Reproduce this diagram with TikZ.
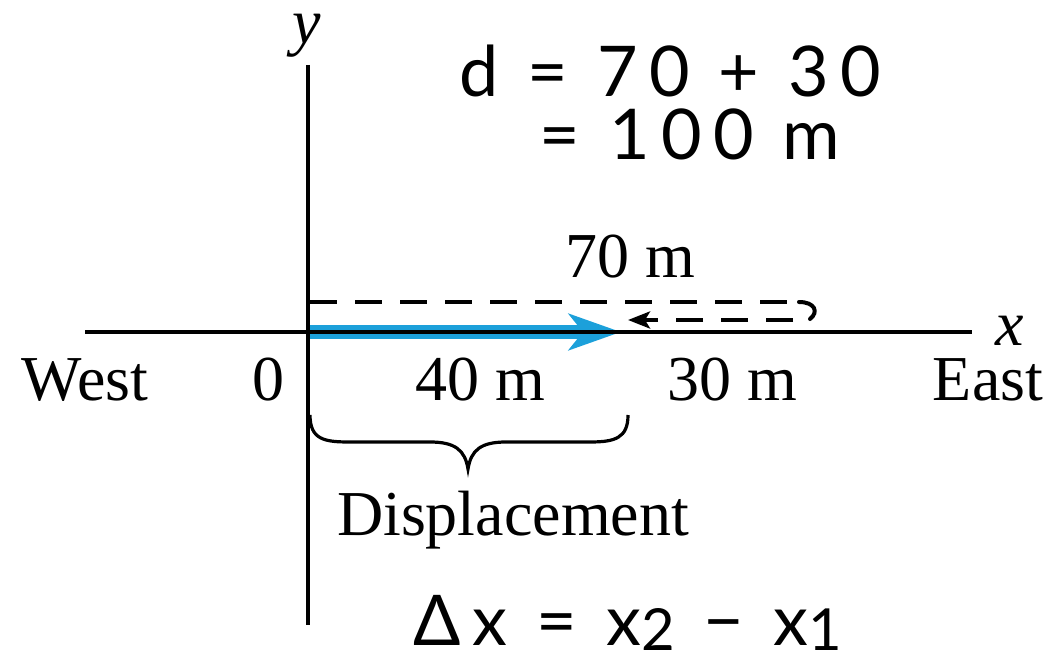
\documentclass[tikz,border=0pt]{standalone}
\usepackage{fontspec}
\setmainfont{Liberation Serif}
\newfontfamily\hand[LetterSpace=16]{Lato}
\usetikzlibrary{arrows.meta}
\definecolor{dispblue}{RGB}{28,160,218}
\tikzset{
  axis/.style={line width=4pt, black},
  lbl/.style={font=\fontsize{64}{70}\selectfont, anchor=base, inner sep=0pt},
  hw/.style={font=\hand\fontsize{70}{76}\selectfont, anchor=base, inner sep=0pt},
  dashpath/.style={line width=4pt, dash pattern=on 27pt off 18pt},
  disp/.style={line width=14pt, dispblue, -{Stealth[length=52pt, width=36pt, inset=14pt]}},
}
\begin{document}
\begin{tikzpicture}[x=1pt, y=-1pt]
\useasboundingbox (0,0) rectangle (1063,658);
% coordinates
\coordinate (ytop) at (308,65);
\coordinate (ybot) at (308,625);
\coordinate (xl) at (85,332);
\coordinate (xr) at (972,332);
\coordinate (o) at (308,332);
\coordinate (tip) at (621,332);
\coordinate (d1) at (310,302);
\coordinate (d2) at (795,302);
\coordinate (c1) at (799,302);
\coordinate (c2) at (810,319);
\coordinate (d3) at (793,320);
\coordinate (d4) at (628,320);
% blue displacement arrow
\draw[disp] (o) -- (tip);
% axes
\draw[axis] (ytop) -- (ybot);
\draw[axis] (xl) -- (xr);
% dashed path
\draw[dashpath] (d1) -- (d2);
\draw[line width=4pt, line cap=round] (c1) .. controls (815,302) and (819,312) .. (c2);
\draw[dashpath, -{Stealth[length=22pt, width=17pt, inset=5pt]}] (d3) -- (d4);
% brace
\draw[line width=3.2pt] (310,415) .. controls (310,440) and (325,442) .. (350,442)
  -- (430,442) .. controls (455,442) and (465,450) .. (468,469)
  .. controls (471,450) and (481,442) .. (506,442)
  -- (590,442) .. controls (615,442) and (628,438) .. (628,415);
% labels
\node[lbl, text height=0.45em] (ylab) at (307,44) {\textit{y}};
\node[lbl, text depth=0pt] (xlab) at (1010,345) {\textit{x}};
\node[lbl] (west) at (85,400) {West};
\node[lbl] (zero) at (268,400) {0};
\node[lbl] (forty) at (480,400) {40 m};
\node[lbl] (thirty) at (732,400) {30 m};
\node[lbl] (east) at (988,400) {East};
\node[lbl] (seventy) at (630,277) {70 m};
\node[lbl] (dlab) at (513,535) {Displacement};
% handwritten notes
\node[hw, text depth=0pt] (eq1) at (670,97) {d = 70 + 30};
\node[hw, text height=0.7em] (eq2) at (690,160) {= 100 m};
\node[hw, text depth=0pt] (eq3) at (628,645) {Δx = x\raisebox{-0.15ex}{\fontsize{58}{58}\selectfont 2} − x\raisebox{-0.15ex}{\fontsize{58}{58}\selectfont 1}};
\end{tikzpicture}
\end{document}
